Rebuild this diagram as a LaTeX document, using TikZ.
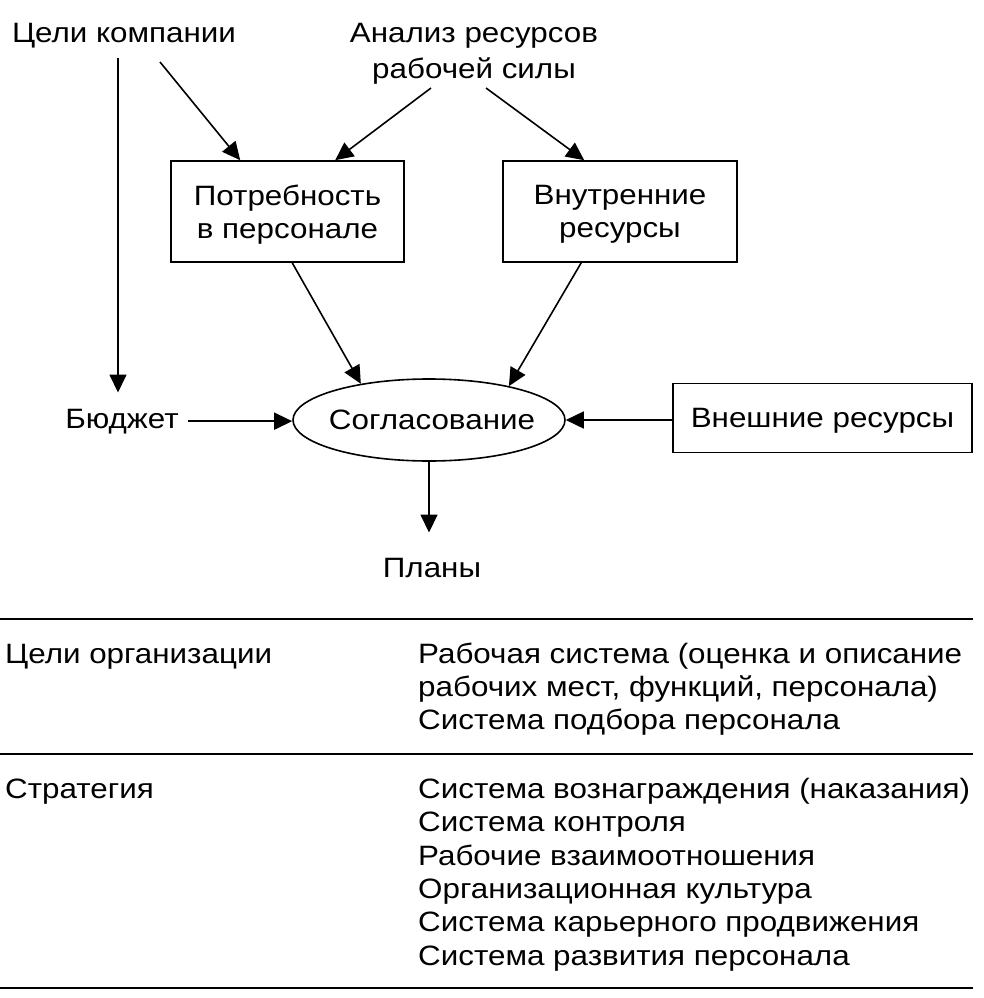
\documentclass[tikz,border=0pt]{standalone}
\usepackage{fontspec}
\setmainfont[FakeStretch=1.12]{Liberation Sans}
\usetikzlibrary{arrows.meta,shapes.geometric,calc}
\begin{document}
\begin{tikzpicture}[x=1pt,y=-1pt,
  font=\fontsize{28}{33}\selectfont,
  arr/.style={line width=1.6pt,-{Triangle[length=18pt,width=17pt]}},
  box/.style={draw,line width=1.6pt,rectangle,align=center,inner sep=0pt,text depth=0pt},
  txt/.style={inner sep=0pt,anchor=base},
  ltxt/.style={inner sep=0pt,anchor=base west},
  rule/.style={line width=1.8pt}]
\useasboundingbox (0,0) rectangle (984,998);
% top labels
\node[txt] (goals) at (124,43) {Цели компании};
\node[txt] (anal1) at (474,43) {Анализ ресурсов};
\node[txt] (anal2) at (474,78) {рабочей силы};
% boxes
\node[box,minimum width=233pt,minimum height=101pt] (need) at (287.5,211.5) {Потребность\\в персонале};
\node[box,minimum width=234pt,minimum height=101pt] (inner) at (620,211.5) {Внутренние\\ресурсы};
\node[draw,ellipse,line width=1.6pt,minimum width=272pt,minimum height=82pt,inner sep=0pt] (agree) at (429,420) {};
\node[txt] (agreetext) at (432,429) {Согласование};
\node[txt] (bud) at (122,428) {Бюджет};
\node[box,minimum width=299pt,minimum height=69pt] (ext) at (822.5,418) {Внешние ресурсы};
\node[txt] (plans) at (432,577) {Планы};
% free ends
\coordinate (gv) at (118,58);
\coordinate (g1) at (160,62);
\coordinate (a1) at (431,88);
\coordinate (a2) at (486,88);
% connectors
\draw[arr,shorten >=16pt] (gv) -- ([xshift=-4pt]bud.north);
\draw[arr] (g1) -- ([xshift=70pt]need.north west);
\draw[arr] (a1) -- ([xshift=165pt]need.north west);
\draw[arr] (a2) -- ([xshift=82pt]inner.north west);
\draw[arr] ([xshift=122pt]need.south west) -- (agree.152);
\draw[arr] ([xshift=79pt]inner.south west) -- (agree.23);
\draw[arr] ([xshift=9pt]bud.east) -- (bud.east -| agree.west);
\draw[arr] (ext.west |- agree.east) -- (agree.east);
\draw[arr] (agree.south) -- ($(agree.south |- plans.north)+(0,-25)$);
% table rules
\draw[rule] (0,619) -- (973,619);
\draw[rule] (0,754) -- (973,754);
\draw[rule] (0,988) -- (973,988);
% table text
\node[ltxt] (t1) at (5,663) {Цели организации};
\node[ltxt] (t2) at (5,798) {Стратегия};
\node[ltxt] (r1) at (418,663) {Рабочая система (оценка и описание};
\node[ltxt] (r2) at (418,696.5) {рабочих мест, функций, персонала)};
\node[ltxt] (r3) at (418,729.5) {Система подбора персонала};
\node[ltxt] (s1) at (418,798) {Система вознаграждения (наказания)};
\node[ltxt] (s2) at (418,831.5) {Система контроля};
\node[ltxt] (s3) at (418,865) {Рабочие взаимоотношения};
\node[ltxt] (s4) at (418,898) {Организационная культура};
\node[ltxt] (s5) at (418,931.5) {Система карьерного продвижения};
\node[ltxt] (s6) at (418,965) {Система развития персонала};
\end{tikzpicture}
\end{document}
